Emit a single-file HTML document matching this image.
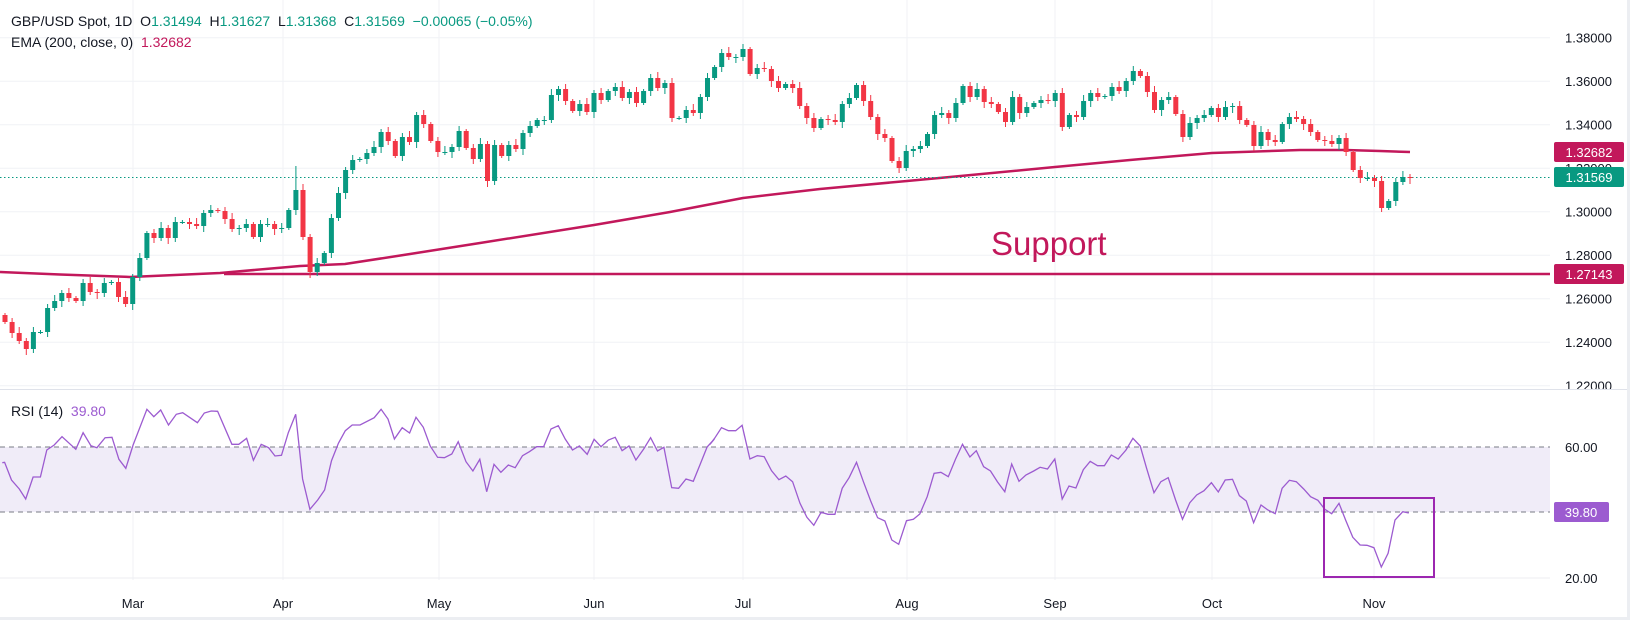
<!DOCTYPE html>
<html><head><meta charset="utf-8">
<style>
html,body{margin:0;padding:0;background:#eceef2;}
svg{display:block;font-family:"Liberation Sans",sans-serif;}
</style></head>
<body>
<svg id="c" width="1630" height="620" xmlns="http://www.w3.org/2000/svg">
<defs><clipPath id="pc"><rect x="0" y="0" width="1630" height="389"/></clipPath></defs>
<rect x="0" y="0" width="1627" height="617" fill="#ffffff"/>
<g id="grid"></g>
<rect x="0" y="447" width="1550" height="65" fill="#f0ecf8"/>
<line x1="0" y1="447" x2="1550" y2="447" stroke="#787b86" stroke-dasharray="5,4" stroke-width="1"/>
<line x1="0" y1="512" x2="1550" y2="512" stroke="#787b86" stroke-dasharray="5,4" stroke-width="1"/>
<line x1="0" y1="389.5" x2="1627" y2="389.5" stroke="#dfe2ea" stroke-width="1"/>
<line x1="224" y1="274" x2="1550" y2="274" stroke="#c2185b" stroke-width="2.5"/>
<polyline id="ema" fill="none" stroke="#c2185b" stroke-width="2.5" stroke-linejoin="round" points="0,272 60,274.5 130,277 220,273 300,266 345,264 410,254 480,243 594,225 670,212 743,198 820,189 907,181 950,177 1055,167 1130,160 1212,153 1300,150 1345,150 1380,151 1410,152"/>
<line x1="0" y1="177.5" x2="1550" y2="177.5" stroke="#089981" stroke-width="1" stroke-dasharray="1.5,2.5"/>
<g id="candles"></g>
<polyline id="rsi" fill="none" stroke="#9c5bd0" stroke-width="1.3" points=""/>
<rect x="1324" y="498" width="110" height="79" fill="none" stroke="#9c27b0" stroke-width="2"/>
<text x="991" y="255" font-size="33" fill="#c2185b">Support</text>
<g font-size="14" fill="#131722">
<text x="11" y="26">GBP/USD Spot, 1D&#160;&#160;O<tspan fill="#089981">1.31494</tspan>&#160;&#160;H<tspan fill="#089981">1.31627</tspan>&#160;&#160;L<tspan fill="#089981">1.31368</tspan>&#160;&#160;C<tspan fill="#089981">1.31569</tspan>&#160;&#160;<tspan fill="#089981">−0.00065 (−0.05%)</tspan></text>
<text x="11" y="47">EMA (200, close, 0)&#160;&#160;<tspan fill="#c2185b">1.32682</tspan></text>
<text x="11" y="416">RSI (14)&#160;&#160;<tspan fill="#9c5bd0">39.80</tspan></text>
</g>
<g id="axis" font-size="13" fill="#131722"></g>
<g font-size="13" fill="#ffffff" text-anchor="middle">
<rect x="1554" y="142" width="70" height="20" rx="2" fill="#c2185b"/><text x="1589" y="157">1.32682</text>
<rect x="1554" y="167" width="70" height="20" rx="2" fill="#089981"/><text x="1589" y="182">1.31569</text>
<rect x="1554" y="264" width="70" height="20" rx="2" fill="#c2185b"/><text x="1589" y="279">1.27143</text>
<rect x="1554" y="502" width="55" height="20" rx="2" fill="#9c5bd0"/><text x="1581" y="517">39.80</text>
</g>
</svg>
<script>
(function(){
var NS="http://www.w3.org/2000/svg";
function el(p,t,a,txt){var e=document.createElementNS(NS,t);for(var k in a)e.setAttribute(k,a[k]);if(txt!=null)e.textContent=txt;p.appendChild(e);return e;}
function py(p){return 37.7+(1.38-p)/0.02*43.5;}
var grid=document.getElementById('grid'),axis=document.getElementById('axis');
var months=[["Mar",133],["Apr",283],["May",439],["Jun",594],["Jul",743],["Aug",907],["Sep",1055],["Oct",1212],["Nov",1374]];
months.forEach(function(m){el(grid,'line',{x1:m[1],y1:0,x2:m[1],y2:580,stroke:'#f0f2f6','stroke-width':1});
 el(axis,'text',{x:m[1],y:608,'text-anchor':'middle'},m[0]);});
for(var i=0;i<9;i++){var p=1.38-i*0.02,yy=py(p);
 el(grid,'line',{x1:0,y1:yy,x2:1550,y2:yy,stroke:'#f0f2f6','stroke-width':1});
 el(axis,'text',{x:1565,y:yy+5,'clip-path':'url(#pc)'},p.toFixed(5));}
el(grid,'line',{x1:0,y1:578,x2:1550,y2:578,stroke:'#eceef2','stroke-width':1});
el(axis,'text',{x:1565,y:452},"60.00");
el(axis,'text',{x:1565,y:583},"20.00");
var C=[322,333,341,349,332,332,308,301,293,298,301,283,292,293,283,282,297,304,277,258,233,238,228,238,222,222,224,226,213,210,211,219,229,228,224,237,224,224,229,228,210,190,237,272,263,253,218,193,170,160,159,153,147,132,141,156,137,142,115,124,141,152,152,147,131,148,159,
144,181,145,156,145,149,133,126,120,120,95,89,101,111,104,112,93,100,91,87,98,92,103,91,78,88,83,118,118,110,113,97,78,67,53,57,57,49,74,68,69,81,88,84,88,106,118,128,119,120,122,104,98,85,101,117,134,138,161,168,151,149,146,134,115,113,
118,103,86,97,89,102,104,112,122,97,113,107,103,100,101,93,127,115,117,101,93,97,96,87,91,81,71,76,92,110,100,97,114,137,123,118,115,108,117,107,106,120,125,146,132,140,142,124,117,119,124,132,140,141,144,138,152,170,178,178,181,208,201,182,177,178];
var cg=document.getElementById('candles');
var step=(1410-5)/(C.length-1);
for(var j=0;j<C.length;j++){
 var cl=C[j],op=j?C[j-1]:315,cx=5+j*step;
 var bt=Math.min(op,cl),bb=Math.max(op,cl);
 var hi=bt-(2+(j*37)%5),lo=bb+(2+(j*53)%5);
 if(j==41)hi=166;
 var col=(cl<=op)?'#089981':'#f23645';
 el(cg,'line',{x1:cx.toFixed(1),y1:hi,x2:cx.toFixed(1),y2:lo,stroke:col,'stroke-width':1});
 el(cg,'rect',{x:(cx-2.5).toFixed(1),y:bt,width:5,height:Math.max(1,bb-bt),fill:col});
}
var R1=[[5,233],[10,232],[25,285],[42,312],[56,342],[72,276],[88,276],[102,195],[118,180],[135,155],[165,193],[181,143],[198,182],[211,188],[229,158],[244,157],[259,223],[274,250],[290,180],[320,73],[335,95],[350,75],[367,120],[384,88],[398,83],[430,113],[445,84],[460,78],[474,79],[505,178],[520,178],[537,160],[552,226],[569,178],[585,188],[599,213],[613,211],[628,143],[644,88],[659,282],[675,373],[692,345],[707,315],[722,227],[737,175],[752,137],[767,120],[784,120],[815,98],[830,73],[845,102],[859,162],[876,128],[892,144],[906,97],[922,127],[937,183],[953,217],[968,218],[984,207],[998,170],[1015,230],[1030,258],[1045,223],[1060,320],[1076,238],[1091,262],[1107,240],[1122,248],[1138,212],[1153,200],[1169,185],[1184,185],[1200,132],[1216,122],[1231,162],[1247,195],[1262,183],[1279,208],[1294,163],[1309,185],[1325,165],[1340,157],[1355,197],[1370,183],[1385,225],[1402,192],[1417,158],[1432,198],[1446,187],[1463,308],[1478,310],[1494,282],[1510,289],[1525,238],[1540,186],[1556,162]];
var R2=[[0,178],[10,160],[25,128],[40,137],[56,137],[70,121],[87,222],[103,212],[118,215],[134,257],[150,284],[165,273],[180,290],[196,355],[211,397],[226,421],[242,382],[257,388],[272,388],[288,310],[303,278],[319,232],[334,290],[350,348],[365,398],[381,408],[396,465],[411,478],[428,407],[443,403],[457,387],[473,335],[488,265],[503,262],[519,275],[535,222],[550,178],[566,216],[580,197],[596,245],[611,258],[626,290],[642,320],[657,237],[673,289],[688,270],[705,258],[719,247],[735,252],[751,222],[767,342],[782,303],[797,309],[813,254],[828,229],[844,242],[859,242],[874,210],[889,222],[906,195],[921,160],[937,183],[951,250],[967,323],[982,290],[998,278],[1014,345],[1029,403],[1045,353],[1060,330],[1076,317],[1092,293],[1107,321],[1122,285],[1138,283],[1153,332],[1168,348],[1184,413],[1200,360],[1215,375],[1231,386],[1246,310],[1262,286],[1277,290],[1293,312],[1308,335],[1324,346],[1339,373],[1354,386],[1370,355],[1385,407],[1400,457],[1416,480],[1431,481],[1446,488],[1462,546],[1477,505],[1492,405],[1509,380],[1522,384]];
var pts=[];
R1.forEach(function(q){pts.push((q[0]/2.178).toFixed(1)+","+(385+q[1]/3).toFixed(1));});
R2.forEach(function(q){pts.push((710+q[0]/2.178).toFixed(1)+","+(385+q[1]/3).toFixed(1));});
document.getElementById('rsi').setAttribute('points',pts.join(" "));
})();
</script>
</body></html>
